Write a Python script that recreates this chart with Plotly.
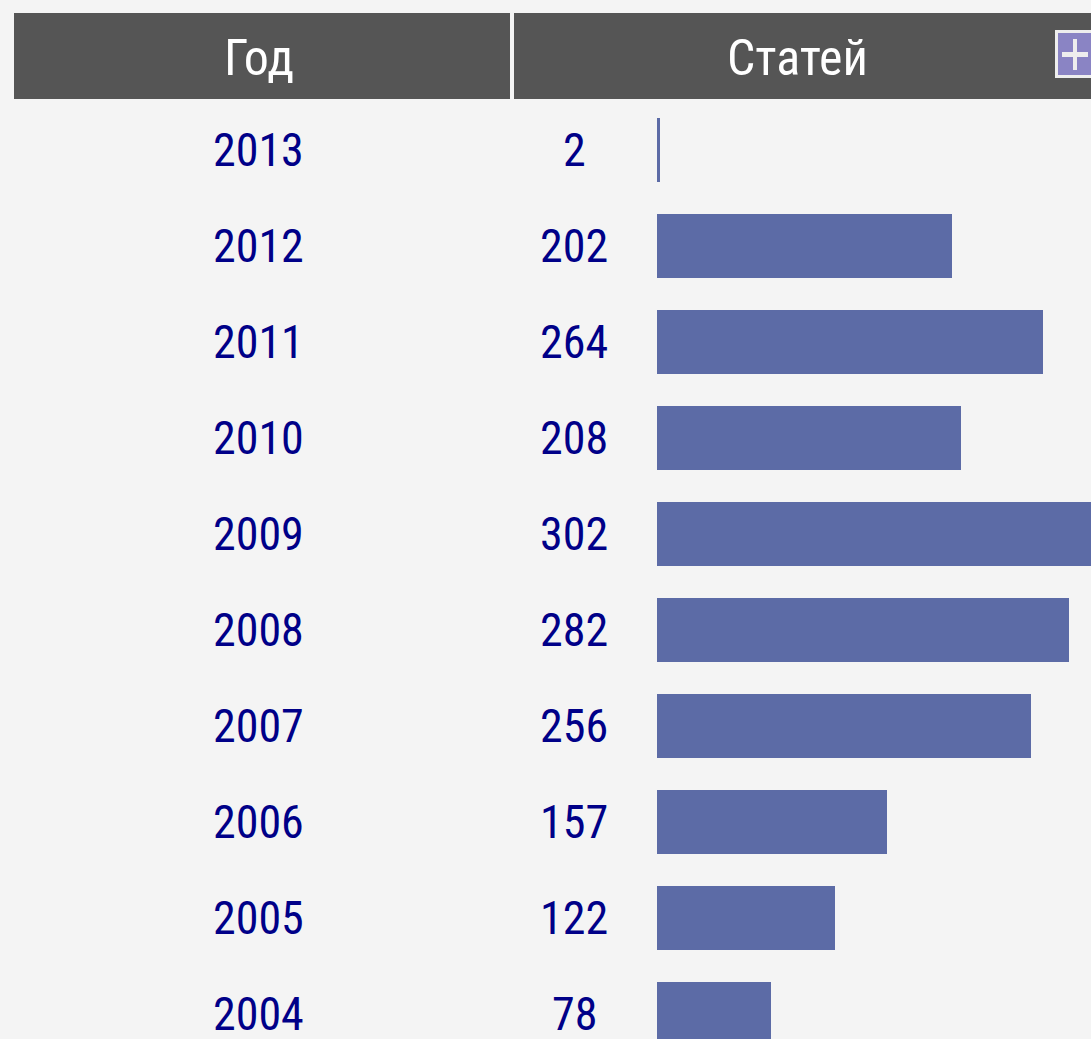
import plotly.graph_objects as go

years = ["2013", "2012", "2011", "2010", "2009", "2008", "2007", "2006", "2005", "2004"]
counts = [2, 202, 264, 208, 302, 282, 256, 157, 122, 78]
col_headers = ["Год", "Статей"]

W, H = 1091, 1039
BG = "#f4f4f4"
HEAD = "#555555"
BAR = "#5c6ba6"
TXT = "#000088"
FONT = "Liberation Sans Narrow, Roboto Condensed, Liberation Sans, Arial"

rows = list(range(len(years)))

fig = go.Figure()
fig.add_trace(go.Bar(
    x=counts, y=rows, orientation="h", width=0.667,
    marker=dict(color=BAR, line=dict(width=0)),
    hoverinfo="skip", showlegend=False,
))

# axis geometry: bars start at pixel 657, ~1.462 px per unit
x0_px = 657
ppu = 1.462
top_px = 102
fig.update_layout(
    width=W, height=H,
    margin=dict(l=0, r=0, t=0, b=0),
    paper_bgcolor=BG, plot_bgcolor=BG,
    bargap=0,
    xaxis=dict(domain=[x0_px / W, 1], range=[0, (W - x0_px) / ppu],
               visible=False, fixedrange=True),
    yaxis=dict(domain=[0, (H - top_px) / H],
               range=[(H - 150) / 96, (top_px - 150) / 96],
               visible=False, fixedrange=True),
)

annotations = []
for i, (yr, c) in enumerate(zip(years, counts)):
    annotations.append(dict(x=258 / W, y=i, xref="paper", yref="y", text=yr,
                            showarrow=False, xanchor="center", yanchor="middle",
                            font=dict(family=FONT, size=46, color=TXT)))
    annotations.append(dict(x=574 / W, y=i, xref="paper", yref="y", text=str(c),
                            showarrow=False, xanchor="center", yanchor="middle",
                            font=dict(family=FONT, size=46, color=TXT)))

# header
def py(p):
    return 1 - p / H

shapes = [
    dict(type="rect", xref="paper", yref="paper", x0=14 / W, x1=510 / W,
         y0=py(99), y1=py(13), fillcolor=HEAD, line=dict(width=0), layer="above"),
    dict(type="rect", xref="paper", yref="paper", x0=514 / W, x1=1.0,
         y0=py(99), y1=py(13), fillcolor=HEAD, line=dict(width=0), layer="above"),
    # plus icon
    dict(type="rect", xref="paper", yref="paper", x0=1055 / W, x1=1.0,
         y0=py(78), y1=py(30), fillcolor="#eeeeee", line=dict(width=0), layer="above"),
    dict(type="rect", xref="paper", yref="paper", x0=1058 / W, x1=1.0,
         y0=py(75), y1=py(33), fillcolor="#8a84c4", line=dict(width=0), layer="above"),
    dict(type="rect", xref="paper", yref="paper", x0=1062 / W, x1=1088 / W,
         y0=py(57), y1=py(52), fillcolor="#eeeeee", line=dict(width=0), layer="above"),
    dict(type="rect", xref="paper", yref="paper", x0=1073 / W, x1=1077 / W,
         y0=py(70), y1=py(39), fillcolor="#eeeeee", line=dict(width=0), layer="above"),
]

annotations.append(dict(x=259 / W, y=py(58), xref="paper", yref="paper", text=col_headers[0],
                        showarrow=False, xanchor="center", yanchor="middle",
                        font=dict(family=FONT, size=50, color="#ffffff")))
annotations.append(dict(x=797 / W, y=py(58), xref="paper", yref="paper", text=col_headers[1],
                        showarrow=False, xanchor="center", yanchor="middle",
                        font=dict(family=FONT, size=50, color="#ffffff")))

fig.update_layout(annotations=annotations, shapes=shapes)
fig.write_html(
    "out.html",
    config=dict(displayModeBar=False),
    post_script="document.body.style.margin='0';document.body.style.background='#f4f4f4';"
                "document.documentElement.style.overflow='hidden';",
)
